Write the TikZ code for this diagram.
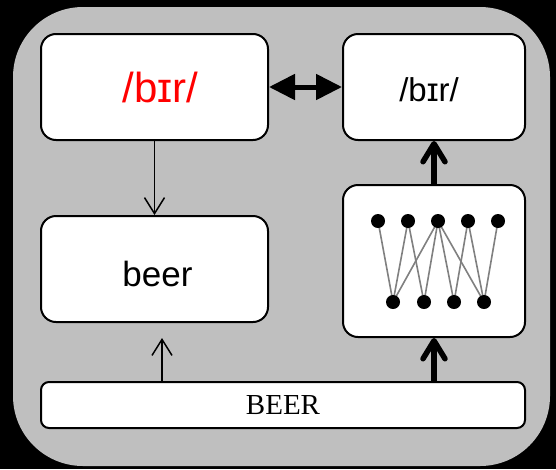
\documentclass[tikz,border=0pt]{standalone}
\usepackage{fontspec}
\setmainfont{Liberation Serif}
\newfontfamily\ipafont{Liberation Sans}
\usetikzlibrary{arrows.meta}

\definecolor{panelgray}{RGB}{191,191,191}
\definecolor{edgegray}{RGB}{128,128,128}
\definecolor{ipared}{RGB}{255,0,0}

\tikzset{
  card/.style={rectangle, draw=black, line width=2pt, fill=white,
    rounded corners=15pt, inner sep=0pt},
  caption/.style={inner sep=0pt, font=\ipafont},
  unit/.style={circle, fill=black, inner sep=0pt, minimum size=14pt},
  link/.style={draw=edgegray, line width=1.6pt},
  thinarrow/.style={line width=1.5pt, -{Straight Barb[length=16pt,width=20pt]}},
  thickarrow/.style={line width=5.5pt,
    -{Straight Barb[length=18pt,width=22pt,line cap=round,line join=round]}},
  dblarrow/.style={line width=5pt,
    {Triangle[length=26pt,width=25pt]}-{Triangle[length=26pt,width=25pt]}},
}

\begin{document}
\begin{tikzpicture}[x=1pt,y=-1pt]
  % page and panel
  \fill[black] (0,0) rectangle (556,469);
  \useasboundingbox (0,0) rectangle (556,469);
  \fill[panelgray, rounded corners=70pt] (13,7) rectangle (550,466);

  % boxes
  \node[card, minimum width=227pt, minimum height=106pt] (ipaL) at (154.5,87) {};
  \node[card, minimum width=182pt, minimum height=106pt] (ipaR) at (434,87) {};
  \node[card, minimum width=227pt, minimum height=106pt] (word) at (154.5,269) {};
  \node[card, minimum width=182pt, minimum height=152pt] (net) at (434,261) {};
  \node[card, minimum width=484pt, minimum height=46pt, rounded corners=8pt,
        font=\fontsize{29}{32}\selectfont] (spell) at (283,405) {BEER};

  % box captions
  \node[caption, text=ipared, font=\ipafont\fontsize{42}{46}\selectfont]
    (ipaLtext) at ([xshift=6pt]ipaL.center) {/bɪr/};
  \node[caption, font=\ipafont\fontsize{33}{36}\selectfont]
    (ipaRtext) at ([xshift=-5pt,yshift=-3pt]ipaR.center) {/bɪr/};
  \node[caption, font=\ipafont\fontsize{35}{38}\selectfont]
    (wordtext) at ([xshift=3pt,yshift=-5pt]word.center) {beer};

  % small network inside the right box
  \foreach \i/\x in {1/378,2/408,3/438,4/468,5/498}
    \coordinate (tp\i) at (\x,221);
  \foreach \i/\x in {1/393,2/424,3/454,4/484}
    \coordinate (bt\i) at (\x,302);
  \foreach \a/\b in {1/1,2/1,2/2,3/1,3/2,3/3,3/4,4/3,4/4,5/4}
    \draw[link] (tp\a) -- (bt\b);
  \foreach \i in {1,...,5}
    \node[unit] (tn\i) at (tp\i) {};
  \foreach \i in {1,...,4}
    \node[unit] (bn\i) at (bt\i) {};

  % connectors
  \draw[dblarrow] (ipaL.east) -- (ipaR.west);
  \draw[thinarrow] (ipaL.south) -- (word.north);
  \coordinate (tapL) at (162,0);
  \draw[thinarrow, shorten >=15pt] (spell.north -| tapL) -- (word.south -| tapL);
  \draw[thickarrow] (spell.north -| net.south) -- (net.south);
  \draw[thickarrow] (net.north) -- (ipaR.south);
\end{tikzpicture}
\end{document}
